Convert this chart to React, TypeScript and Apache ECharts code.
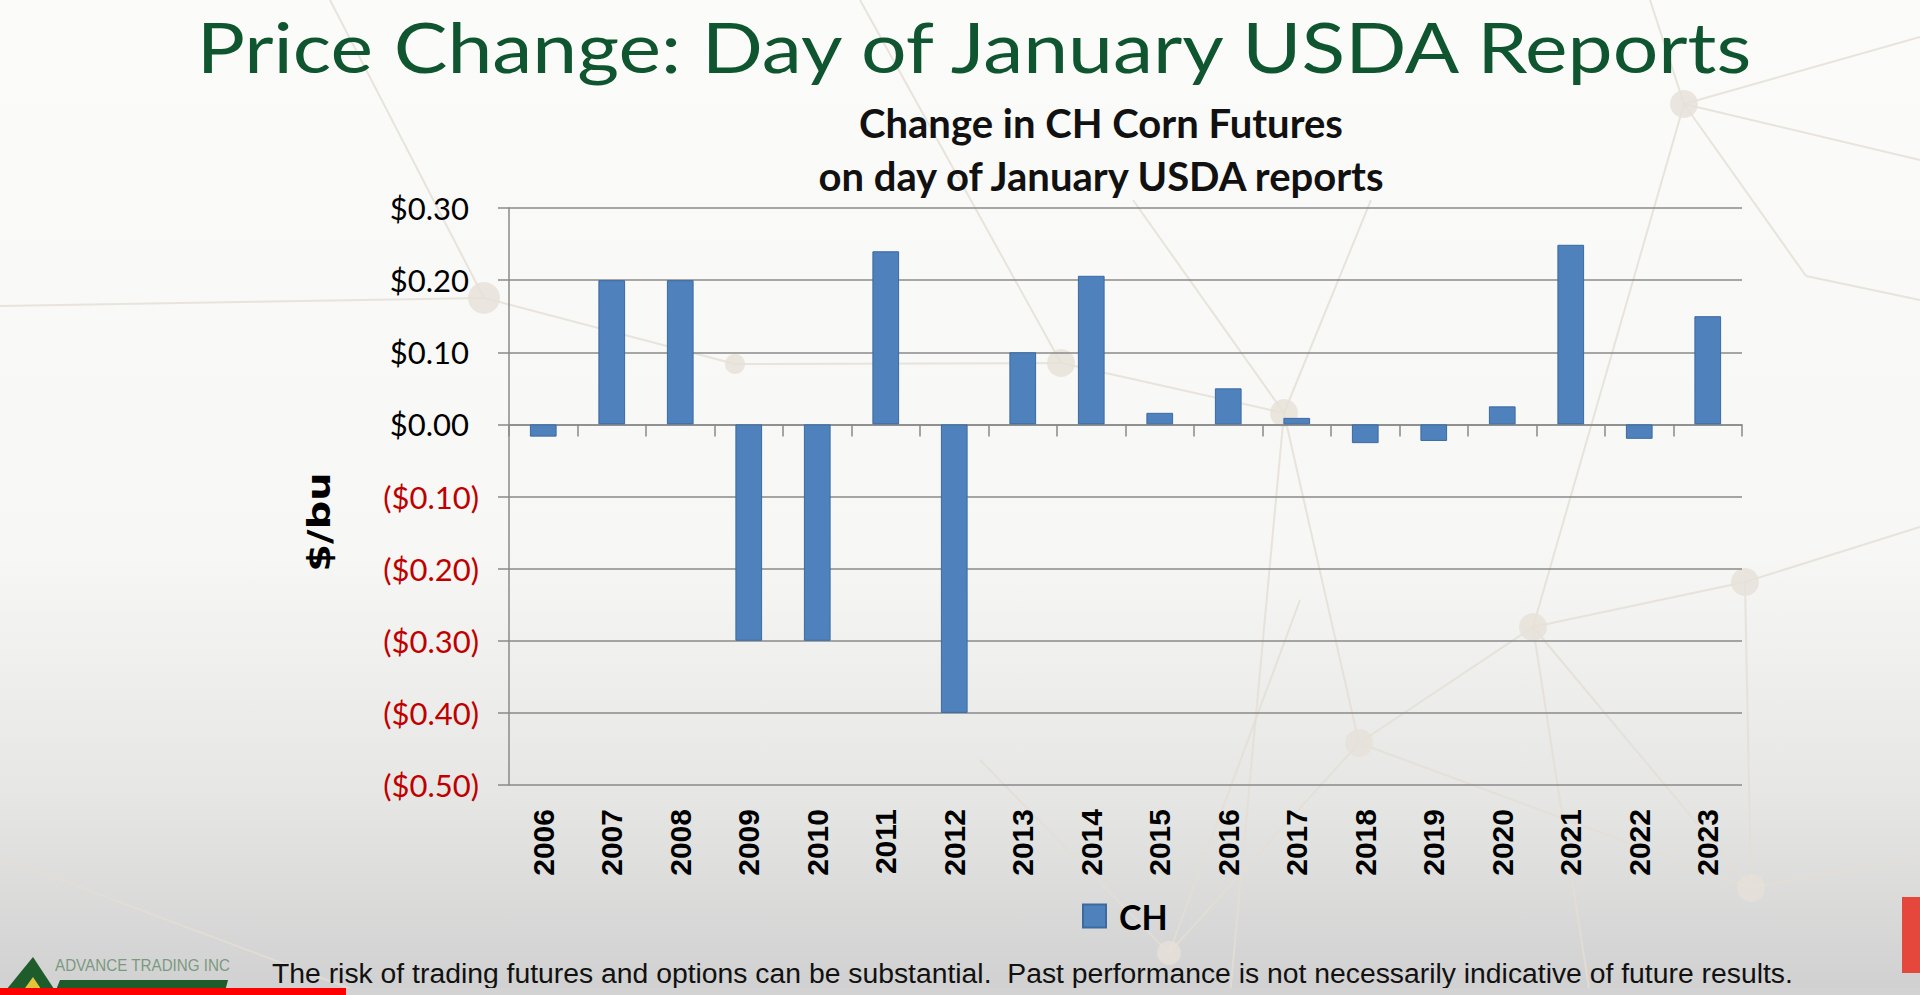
import React, { useEffect, useRef } from "react";
import * as echarts from "echarts";

const years = ["2006", "2007", "2008", "2009", "2010", "2011", "2012", "2013", "2014", "2015", "2016", "2017", "2018", "2019", "2020", "2021", "2022", "2023"];
const changes = [-0.017, 0.2, 0.2, -0.3, -0.3, 0.24, -0.4, 0.1, 0.206, 0.016, 0.05, 0.009, -0.026, -0.023, 0.025, 0.249, -0.02, 0.15];
const seriesName = "CH";
const yMin = -0.5;
const yMax = 0.3;
const yStep = 0.1;
const mainTitle = "Price Change: Day of January USDA Reports";
const chartTitle1 = "Change in CH Corn Futures";
const chartTitle2 = "on day of January USDA reports";
const yAxisName = "$/bu";
const disclaimer = "The risk of trading futures and options can be substantial.  Past performance is not necessarily indicative of future results.";
const logoText = "ADVANCE TRADING INC";

// decorative background network (page coordinates)
const netLines: number[][] = [
  [1684, 104, 1920, 37], [1684, 104, 1920, 160], [1684, 104, 1806, 276], [1684, 104, 1650, 0],
  [1684, 104, 1533, 627], [1745, 582, 1920, 527], [1745, 582, 1533, 627], [1751, 888, 1920, 857],
  [1751, 888, 1533, 627], [1751, 888, 1745, 582], [1533, 627, 1359, 743], [1359, 743, 1169, 953],
  [1359, 743, 1751, 888], [1284, 413, 1133, 200], [1284, 413, 1371, 200], [1284, 413, 1061, 363],
  [1284, 413, 1359, 743], [1061, 363, 860, 0], [1061, 363, 735, 364], [735, 364, 484, 298],
  [484, 298, 0, 306], [484, 298, 330, 0], [0, 857, 367, 995], [1169, 953, 1300, 600],
  [1533, 627, 1590, 995], [1806, 276, 1920, 300], [1284, 413, 1230, 995], [1169, 953, 980, 760]
];
const netNodes: number[][] = [
  [1684, 104, 14], [1745, 582, 14], [1533, 627, 14], [1359, 743, 14], [1751, 888, 14], [1284, 413, 14], [1061, 363, 14], [1169, 953, 12], [735, 364, 10], [484, 298, 16]
];

function fmt(v: number): string {
  const r = Math.round(v * 100) / 100;
  if (r < 0) return `{neg|($${Math.abs(r).toFixed(2)})}`;
  return `{pos|$${r.toFixed(2)}}`;
}

export default function App() {
  const ref = useRef<HTMLDivElement>(null);
  useEffect(() => {
    document.body.style.margin = "0";
    const chart = echarts.init(ref.current!, null, { renderer: "svg" });
    const gray = "#8a8a8a";
    const graphics: any[] = [];
    netLines.forEach((l) => {
      graphics.push({ type: "line", silent: true, z: -10, shape: { x1: l[0], y1: l[1], x2: l[2], y2: l[3] }, style: { stroke: "#e3ded5", lineWidth: 2, opacity: 0.8 } });
    });
    netNodes.forEach((n) => {
      graphics.push({ type: "circle", silent: true, z: -10, shape: { cx: n[0], cy: n[1], r: n[2] }, style: { fill: "#e6e1d8", opacity: 0.8 } });
    });
    graphics.push(
      { type: "text", x: 974, y: 46, scaleX: 1.15, style: { text: mainTitle, fill: "#0e5530", font: "normal 70px Lato", textAlign: "center", textVerticalAlign: "middle" } },
      { type: "text", x: 1101, y: 123, style: { text: chartTitle1, fill: "#111", font: "bold 40px Lato", textAlign: "center", textVerticalAlign: "middle" } },
      { type: "text", x: 1101, y: 176, style: { text: chartTitle2, fill: "#111", font: "bold 40px Lato", textAlign: "center", textVerticalAlign: "middle" } },
      { type: "text", x: 319, y: 522, rotation: Math.PI / 2, scaleX: 1.25, style: { text: yAxisName, fill: "#000", font: "bold 32px 'DejaVu Sans'", textAlign: "center", textVerticalAlign: "middle" } },
      { type: "text", x: 272, y: 974, scaleX: 1.012, style: { text: disclaimer, fill: "#111", font: "normal 28px 'Liberation Sans'", textAlign: "left", textVerticalAlign: "middle" } },
      { type: "text", x: 55, y: 965, scaleX: 0.95, style: { text: logoText, fill: "#7a9a80", font: "normal 16px 'Liberation Sans'", textAlign: "left", textVerticalAlign: "middle" } },
      { type: "polygon", shape: { points: [[2, 995], [33, 957], [58, 995]] }, style: { fill: "#1f5c2c" } },
      { type: "polygon", shape: { points: [[20, 995], [33, 977], [45, 995]] }, style: { fill: "#e2c53a" } },
      { type: "polygon", shape: { points: [[60, 980], [228, 980], [224, 995], [54, 995]] }, style: { fill: "#1f5c2c" } },
      { type: "rect", shape: { x: 0, y: 988, width: 1920, height: 7 }, style: { fill: "#d3d3d3" } },
      { type: "rect", shape: { x: 0, y: 988, width: 346, height: 7 }, style: { fill: "#ff0000" } },
      { type: "rect", shape: { x: 1902, y: 897, width: 18, height: 76 }, style: { fill: "#e5473c" } }
    );

    const option: any = {
      animation: false,
      backgroundColor: {
        type: "linear", x: 0, y: 0, x2: 0, y2: 1,
        colorStops: [
          { offset: 0, color: "#fbfbf9" },
          { offset: 0.55, color: "#f7f7f5" },
          { offset: 0.8, color: "#e6e6e5" },
          { offset: 1, color: "#d0d0d0" }
        ]
      },
      graphic: graphics,
      grid: [
        { left: 509, right: 178, top: 208, bottom: 210 },
        { left: 509, right: 178, top: 208, bottom: 210 }
      ],
      legend: {
        data: [seriesName],
        left: 1077,
        top: 894,
        icon: "rect",
        itemWidth: 23,
        itemHeight: 23,
        itemGap: 10,
        textStyle: { fontFamily: "Lato", fontWeight: "bold", fontSize: 34, color: "#000", padding: [0, 0, 0, 8] }
      },
      xAxis: [
        {
          type: "category",
          gridIndex: 0,
          data: years,
          position: "bottom",
          axisLine: { show: true, onZero: true, lineStyle: { color: gray, width: 1.5 } },
          axisTick: { show: true, length: 12, lineStyle: { color: gray, width: 1.5 } },
          axisLabel: { show: false },
          splitLine: { show: false }
        },
        {
          type: "category",
          gridIndex: 1,
          data: years,
          position: "bottom",
          axisLine: { show: false, onZero: false },
          axisTick: { show: false },
          axisLabel: { show: true, rotate: 90, margin: 24, fontFamily: "Liberation Sans", fontWeight: "bold", fontSize: 30, color: "#000" },
          splitLine: { show: false }
        }
      ],
      yAxis: [
        {
          type: "value",
          gridIndex: 0,
          min: yMin,
          max: yMax,
          interval: yStep,
          axisLine: { show: true, lineStyle: { color: gray, width: 1.5 } },
          axisTick: { show: true, length: 11, lineStyle: { color: gray, width: 1.5 } },
          splitLine: { show: true, lineStyle: { color: gray, width: 1.5 } },
          axisLabel: {
            margin: 30,
            formatter: fmt,
            rich: {
              pos: { fontFamily: "Lato", fontSize: 31, color: "#000", padding: [0, 10, 0, 0] },
              neg: { fontFamily: "Lato", fontSize: 31, color: "#c00000" }
            }
          }
        },
        { type: "value", gridIndex: 1, min: yMin, max: yMax, interval: yStep, show: false }
      ],
      series: [
        {
          name: seriesName,
          type: "bar",
          xAxisIndex: 0,
          yAxisIndex: 0,
          data: changes,
          barWidth: "39%",
          itemStyle: { color: "#4f81bd", borderColor: "#3b6aa0", borderWidth: 1 }
        }
      ]
    };
    chart.setOption(option);
    return () => chart.dispose();
  }, []);
  return <div ref={ref} style={{ width: 1920, height: 995 }} />;
}
